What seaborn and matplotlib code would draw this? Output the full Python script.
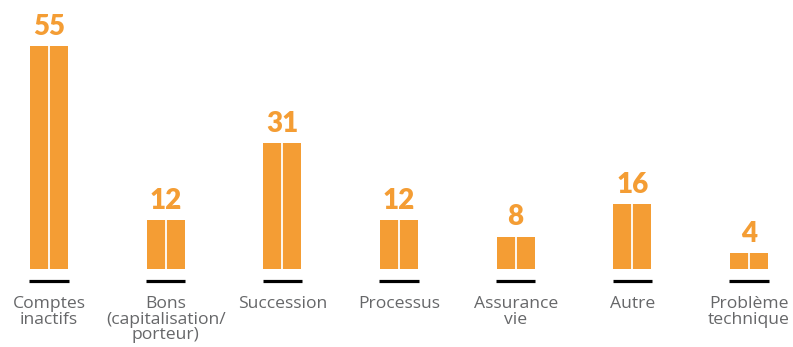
import numpy as np
import pandas as pd
import seaborn as sns
import matplotlib
matplotlib.use("Agg")
import matplotlib.pyplot as plt

categories = ["Comptes\ninactifs", "Bons\n(capitalisation/\nporteur)", "Succession",
              "Processus", "Assurance\nvie", "Autre", "Problème\ntechnique"]
values = [55, 12, 31, 12, 8, 16, 4]

ORANGE = "#F49D34"
GREY = "#666769"

sns.set_theme(style="white")
plt.rcParams["font.family"] = ["Lato", "DejaVu Sans"]

df = pd.DataFrame({"cat": categories, "val": values})

fig = plt.figure(figsize=(7.93, 3.47), dpi=100)
ax = fig.add_axes([0, 0, 1, 1])

sns.barplot(data=df, x="cat", y="val", color=ORANGE, saturation=1,
            width=0.326, ax=ax, linewidth=0)

pos = np.arange(len(values))
# thin white split down the middle of each bar
ax.vlines(pos, 0, values, colors="white", linewidth=1.3)
# black base strip under each bar
ax.hlines([-2.83] * len(pos), pos - 0.168, pos + 0.168, colors="black", linewidth=2.3)

for x, v, c in zip(pos, values, categories):
    ax.annotate(str(v), (x, v), xytext=(0, 8), textcoords="offset points",
                ha="center", va="baseline", fontsize=20, fontweight="heavy",
                color=ORANGE)
    ax.annotate(c, (x, 0), xytext=(0, -19.5), textcoords="offset points",
                ha="center", va="top", fontsize=12.6, color=GREY,
                family=["Open Sans", "DejaVu Sans"], linespacing=0.96)

ax.set_xlim(-0.42, 6.377)
ax.set_ylim(-19.2, 66.3)
ax.axis("off")

fig.savefig("out.png", dpi=100)
